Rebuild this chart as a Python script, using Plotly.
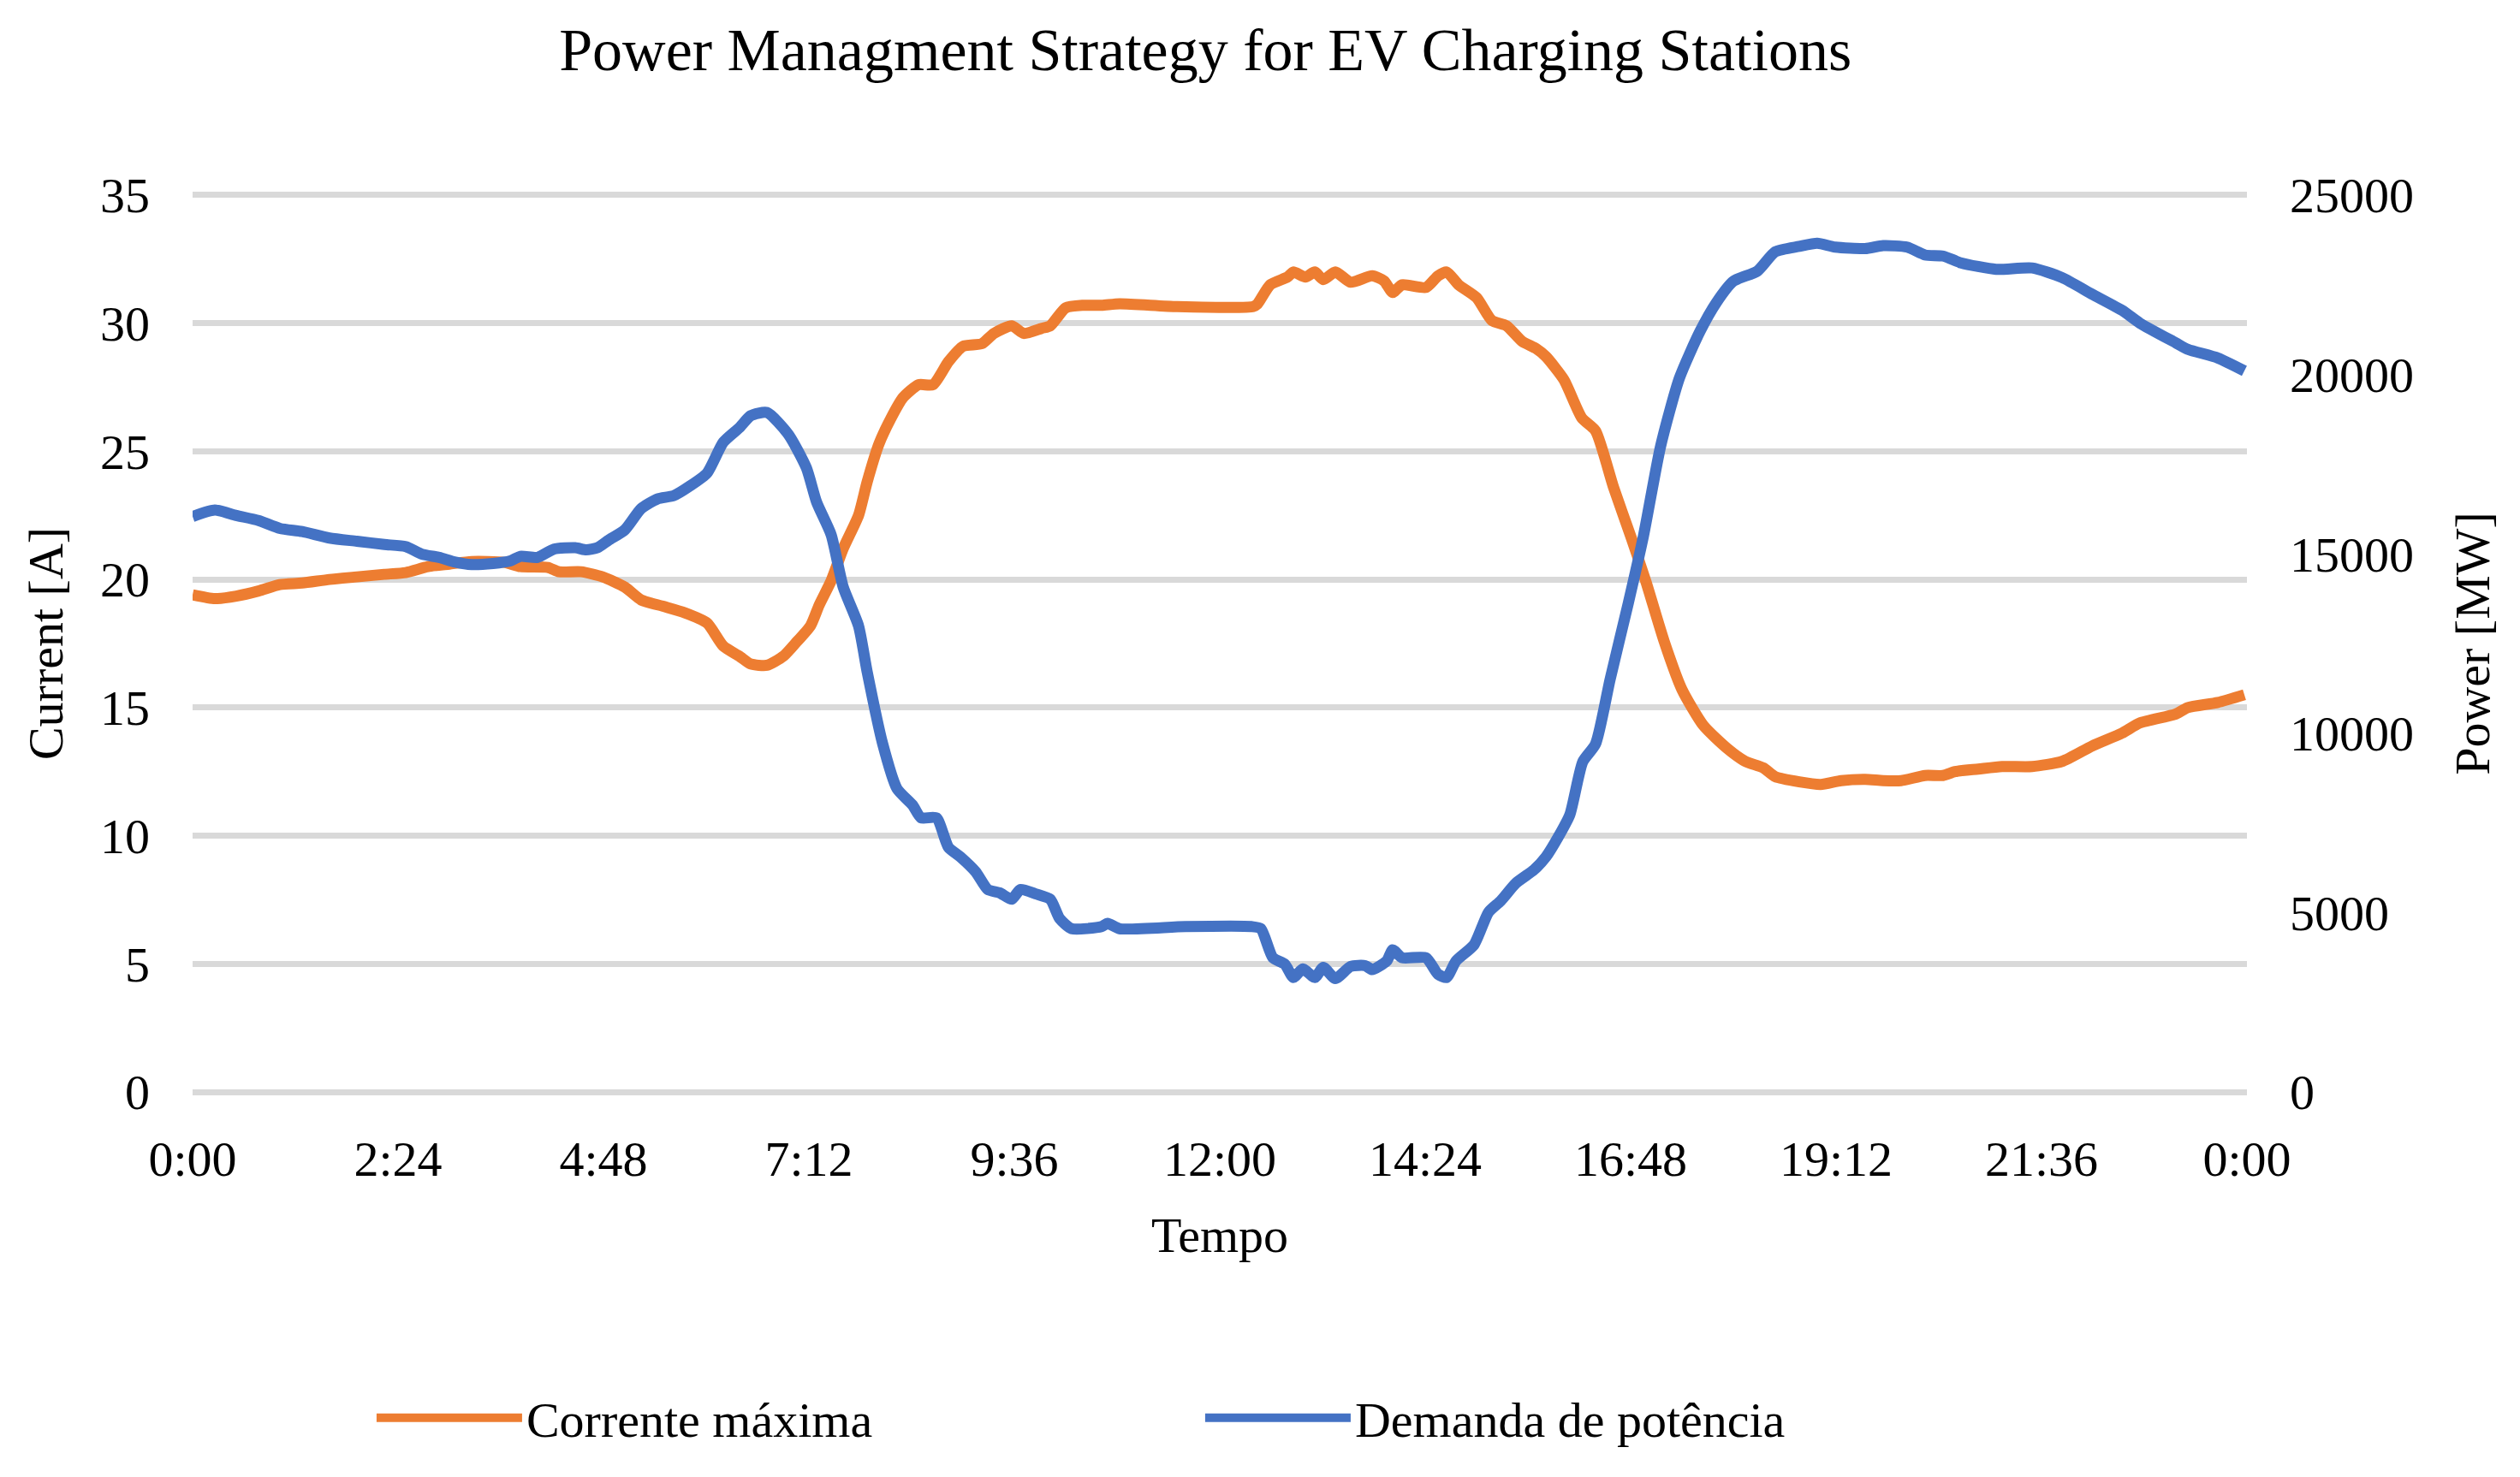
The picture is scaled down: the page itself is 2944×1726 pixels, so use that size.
import plotly.graph_objects as go

# ---------------- data ----------------
hours_current = [0.00, 0.26, 0.51, 0.77, 1.02, 1.28, 1.60, 1.92, 2.24, 2.49, 2.75, 3.00, 3.26, 3.64,
                 3.83, 4.15, 4.28, 4.54, 4.79, 5.05, 5.24, 5.50, 5.75, 6.01, 6.20, 6.39, 6.52, 6.71,
                 6.90, 7.04, 7.22, 7.32, 7.46, 7.60, 7.78, 7.88, 8.02, 8.16, 8.30, 8.48, 8.65, 8.83,
                 9.00, 9.22, 9.36, 9.57, 9.71, 9.92, 10.02, 10.20, 10.41, 10.62, 10.83, 11.50, 12.39,
                 12.44, 12.59, 12.79, 12.86, 13.00, 13.11, 13.21, 13.35, 13.53, 13.78, 13.92, 14.02,
                 14.13, 14.41, 14.55, 14.65, 14.79, 15.00, 15.18, 15.35, 15.53, 15.70, 15.81, 16.02,
                 16.23, 16.39, 16.60, 16.81, 16.98, 17.19, 17.40, 17.65, 17.93, 18.14, 18.35, 18.49,
                 18.77, 19.02, 19.26, 19.54, 19.75, 19.96, 20.24, 20.45, 20.59, 20.86, 21.14, 21.49,
                 21.84, 22.19, 22.54, 22.75, 23.17, 23.31, 23.66, 23.97]
current_A = [19.4, 19.25, 19.35, 19.55, 19.8, 19.86, 20.0, 20.1, 20.2, 20.27, 20.5, 20.6, 20.7, 20.67,
             20.5, 20.47, 20.3, 20.3, 20.1, 19.7, 19.2, 18.95, 18.7, 18.3, 17.4, 17.0, 16.7, 16.65,
             17.0, 17.5, 18.2, 19.0, 19.95, 21.2, 22.5, 23.8, 25.3, 26.3, 27.1, 27.6, 27.6, 28.5,
             29.1, 29.2, 29.6, 29.9, 29.6, 29.8, 29.9, 30.6, 30.7, 30.7, 30.76, 30.65, 30.65,
             30.75, 31.5, 31.8, 32.0, 31.8, 32.0, 31.7, 32.0, 31.6, 31.85, 31.65, 31.2,
             31.5, 31.4, 31.85, 32.0, 31.5, 31.0, 30.1, 29.9, 29.3, 29.0, 28.7, 27.8,
             26.3, 25.8, 23.6, 21.6, 19.9, 17.6, 15.7, 14.3, 13.4, 12.9, 12.65, 12.3,
             12.1, 12.0, 12.15, 12.2, 12.15, 12.15, 12.35, 12.35, 12.5, 12.6, 12.7, 12.7,
             12.9, 13.5, 14.0, 14.4, 14.75, 15.0, 15.2, 15.5]

hours_power = [0.00, 0.26, 0.51, 0.77, 1.02, 1.28, 1.60, 1.92, 2.24, 2.49, 2.68, 2.88, 3.07, 3.26,
               3.51, 3.71, 3.83, 4.03, 4.22, 4.47, 4.60, 4.73, 4.86, 5.05, 5.24, 5.43, 5.62, 5.81,
               6.01, 6.20, 6.39, 6.52, 6.71, 6.96, 7.17, 7.29, 7.46, 7.60, 7.78, 7.88, 8.06, 8.23,
               8.41, 8.51, 8.69, 8.83, 8.97, 9.15, 9.29, 9.43, 9.57, 9.67, 9.85, 10.02, 10.13,
               10.27, 10.62, 10.69, 10.83, 11.60, 12.37, 12.48, 12.62, 12.76, 12.86, 12.97, 13.11,
               13.21, 13.35, 13.53, 13.70, 13.78, 13.95, 14.02, 14.13, 14.41, 14.55, 14.65, 14.76,
               14.97, 15.14, 15.28, 15.46, 15.67, 15.81, 15.95, 16.09, 16.24, 16.39, 16.56, 16.77,
               16.95, 17.15, 17.37, 17.61, 17.80, 18.00, 18.28, 18.49, 18.77, 18.98, 19.19, 19.54,
               19.75, 20.03, 20.24, 20.45, 20.66, 21.07, 21.49, 21.84, 22.19, 22.54, 22.75, 23.17,
               23.31, 23.66, 23.97]
power_MW = [16040, 16220, 16070, 15930, 15710, 15620, 15440, 15350, 15260, 15200, 14990, 14900, 14770, 14700,
            14730, 14800, 14930, 14900, 15130, 15170, 15110, 15170, 15380, 15670, 16260, 16530, 16620, 16890,
            17250, 18110, 18520, 18850, 18940, 18330, 17400, 16440, 15530, 14080, 12990, 11720, 9720, 8450,
            8000, 7640, 7640, 6820, 6550, 6130, 5640, 5550, 5370, 5640, 5520, 5370, 4830,
            4550, 4610, 4700, 4550, 4610, 4610, 4550, 3740, 3560, 3190, 3430, 3190,
            3470, 3160, 3500, 3520, 3410, 3650, 3960, 3740, 3740, 3280, 3190, 3650,
            4100, 5010, 5320, 5820, 6190, 6550, 7090, 7730, 9200, 9700, 11500, 13600,
            15500, 18000, 19900, 21200, 22000, 22600, 22880, 23420, 23570, 23660, 23550, 23510,
            23590, 23550, 23330, 23300, 23110, 22930, 22970, 22700, 22240, 21790, 21430, 20880,
            20700, 20460, 20100]

tick_hours = [0, 2.4, 4.8, 7.2, 9.6, 12.0, 14.4, 16.8, 19.2, 21.6, 24.0]
tick_labels = ["0:00", "2:24", "4:48", "7:12", "9:36", "12:00", "14:24", "16:48", "19:12", "21:36", "0:00"]

# ---------------- figure ----------------
FONT = "Liberation Serif, Times New Roman, serif"
ORANGE = "#ED7D31"
BLUE = "#4472C4"
FS = 58

# small padding so the 0 and 35 gridlines are drawn inside the plot area
PAD = 0.1
Y1_MAX = 35
Y2_MAX = 25000
ratio = Y2_MAX / Y1_MAX

fig = go.Figure()
fig.add_trace(go.Scatter(
    x=hours_current, y=current_A, name="Corrente máxima", mode="lines",
    line=dict(color=ORANGE, width=13, shape="spline", smoothing=0.6), yaxis="y"))
fig.add_trace(go.Scatter(
    x=hours_power, y=power_MW, name="Demanda de potência", mode="lines",
    line=dict(color=BLUE, width=13, shape="spline", smoothing=0.6), yaxis="y2"))

fig.update_layout(
    width=2944, height=1726,
    margin=dict(l=225, r=319, t=225, b=447),
    paper_bgcolor="white", plot_bgcolor="white",
    font=dict(family=FONT, size=FS, color="black"),
    title=dict(text="Power Managment Strategy for EV Charging Stations",
               font=dict(family=FONT, size=70, color="black"),
               x=0.493, xref="paper", xanchor="center",
               y=1 - 57 / 1726, yref="container", yanchor="middle"),
    xaxis=dict(range=[0, 24], tickvals=tick_hours, ticktext=tick_labels,
               showgrid=False, zeroline=False, showline=False, ticks="",
               ticklabelstandoff=36,
               title=dict(text="Tempo", standoff=36, font=dict(size=FS))),
    yaxis=dict(range=[-PAD, Y1_MAX + PAD], dtick=5, tick0=0, showgrid=True,
               gridcolor="#D9D9D9", gridwidth=7,
               zeroline=False, showline=False, ticks="", ticklabelstandoff=49,
               title=dict(text="Current [A]", standoff=24, font=dict(size=FS))),
    yaxis2=dict(range=[-PAD * ratio, Y2_MAX + PAD * ratio], dtick=5000, tick0=0,
                tickformat="d", overlaying="y", side="right",
                showgrid=False, zeroline=False, showline=False, ticks="", ticklabelstandoff=49,
                title=dict(text="Power [MW]", standoff=48, font=dict(size=FS))),
    legend=dict(orientation="h", x=0.4908, xanchor="center", y=-0.3586, yanchor="middle",
                font=dict(family=FONT, size=FS), itemwidth=170, entrywidth=783,
                bgcolor="rgba(0,0,0,0)"),
    showlegend=True,
)

fig.write_html("out.html", config={"displayModeBar": False},
               post_script="document.body.style.margin='0';document.body.style.overflow='hidden';")
